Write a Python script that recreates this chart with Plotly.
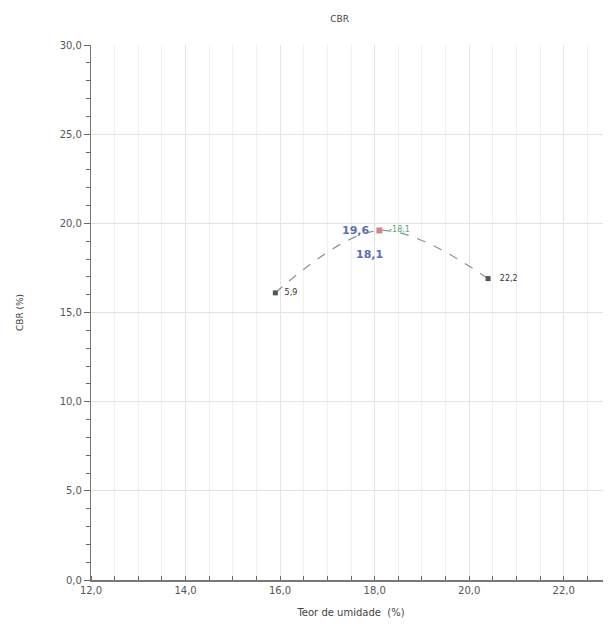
import plotly.graph_objects as go

# Data
moisture = [15.9, 18.1, 20.4]          # Teor de umidade (%)
cbr = [16.1, 19.6, 16.9]               # CBR (%)
point_labels = ["5,9", "18,1", "22,2"]
opt_moisture = 18.1
max_cbr = 19.6
x_ticks = [12, 14, 16, 18, 20, 22]
y_ticks = [0, 5, 10, 15, 20, 25, 30]

fig = go.Figure()

# Curve through the points
fig.add_trace(go.Scatter(
    x=moisture, y=cbr, mode="lines",
    line=dict(color="#7f9a9a", width=1.2, dash="dash", shape="spline"),
    hoverinfo="skip", showlegend=False))

# Outer points (dark small squares)
fig.add_trace(go.Scatter(
    x=[moisture[0], moisture[2]], y=[cbr[0], cbr[2]], mode="markers+text",
    marker=dict(symbol="square", size=5, color="#555555"),
    text=["  " + point_labels[0], "   " + point_labels[2]], textposition="middle right",
    textfont=dict(size=8, color="#333333", family="DejaVu Sans"),
    showlegend=False))

# Peak (red marker)
fig.add_trace(go.Scatter(
    x=[opt_moisture], y=[max_cbr], mode="markers+text",
    marker=dict(symbol="square", size=6, color="#d9808a"),
    text=["  -" + point_labels[1]], textposition="middle right",
    textfont=dict(size=8, color="#55aa77", family="DejaVu Sans"),
    showlegend=False))

fig.add_annotation(x=opt_moisture, y=max_cbr, text="<b>19,6</b>", showarrow=False,
                   xanchor="right", xshift=-8, font=dict(size=11, color="#5a6fb0", family="DejaVu Sans"))
fig.add_annotation(x=opt_moisture, y=max_cbr, text="<b>18,1</b>", showarrow=False,
                   yshift=-24, xshift=-10, font=dict(size=11, color="#5a6fb0", family="DejaVu Sans"))

fig.update_layout(
    width=603, height=628,
    margin=dict(l=83, r=0, t=37, b=56),
    paper_bgcolor="white", plot_bgcolor="white",
    separators=",.",
    font=dict(family="DejaVu Sans", size=10, color="#555555"),
    title=dict(text="CBR", x=0.55, xanchor="center", y=0.983, yanchor="middle",
               font=dict(size=9, color="#444444")),
    xaxis=dict(range=[12, 23], tickvals=x_ticks, tickformat=".1f",
               showgrid=True, gridcolor="#e4e4e4", gridwidth=1,
               minor=dict(dtick=0.5, showgrid=True, gridcolor="#f0f0f0", ticks="inside", ticklen=4, tickcolor="#666"),
               showline=True, linecolor="#777777", linewidth=1.5,
               ticks="", zeroline=False,
               title=dict(text="Teor de umidade  (%)", standoff=14, font=dict(size=10, color="#444444")),
               tickfont=dict(size=10, color="#555555")),
    yaxis=dict(range=[0, 30], tickvals=y_ticks, tickformat=".1f",
               showgrid=True, gridcolor="#e2e2e2", gridwidth=1,
               minor=dict(dtick=1, showgrid=False, ticks="outside", ticklen=4, tickcolor="#666"),
               showline=True, linecolor="#777777", linewidth=1.2,
               ticks="outside", ticklen=6, tickcolor="#666666", zeroline=False,
               title=dict(text="CBR (%)", standoff=34, font=dict(size=9, color="#444444")),
               tickfont=dict(size=10, color="#555555")),
)

fig.write_html("out.html")
